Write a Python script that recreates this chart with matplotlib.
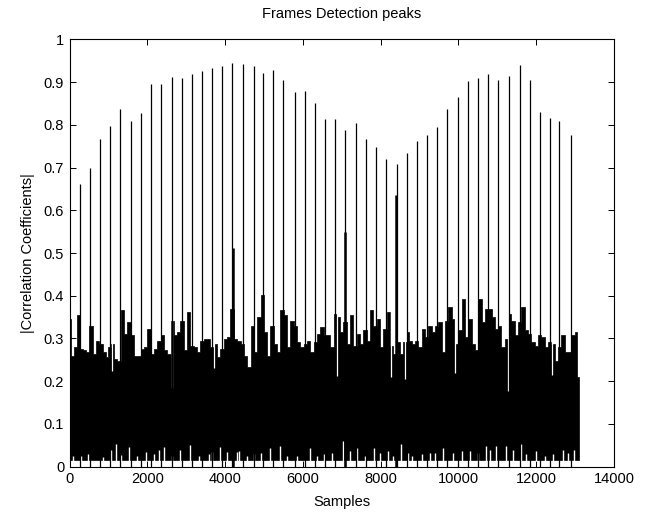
import matplotlib
matplotlib.use("Agg")
import matplotlib.pyplot as plt
import numpy as np

# frame peaks (sample index, |corr|)
peak_x = [264, 520, 776, 1032, 1288, 1570, 1844, 2100, 2356, 2620, 2901, 3157, 3413,
          3670, 3926, 4182, 4464, 4728, 4983, 5240, 5495, 5787, 6044, 6300, 6563, 6820,
          7076, 7357, 7613, 7869, 8126, 8425, 8681, 8937, 9193, 9449, 9705, 9995, 10251,
          10507, 10771, 11027, 11309, 11575, 11831, 12087, 12343, 12599, 12889]
peak_y = [0.662, 0.698, 0.766, 0.797, 0.836, 0.809, 0.827, 0.895, 0.895, 0.912, 0.909,
          0.919, 0.926, 0.934, 0.938, 0.944, 0.942, 0.938, 0.921, 0.929, 0.905, 0.876,
          0.879, 0.852, 0.814, 0.814, 0.787, 0.805, 0.767, 0.749, 0.720, 0.708, 0.734,
          0.761, 0.776, 0.796, 0.837, 0.864, 0.902, 0.909, 0.918, 0.905, 0.914, 0.941,
          0.905, 0.829, 0.817, 0.809, 0.776]

# a few side lobes next to the main peaks
lobe_x = [4195, 7093, 8399]
lobe_y = [0.512, 0.548, 0.636]

# upper edge of the noise floor
noise_x = [8, 76, 161, 230, 289, 375, 461, 546, 631, 716, 802, 887, 973, 1015, 1100, 1186,
           1271, 1357, 1442, 1527, 1613, 1698, 1783, 1869, 1954, 2039, 2125, 2210, 2295,
           2381, 2466, 2551, 2637, 2722, 2807, 2893, 2978, 3063, 3149, 3234, 3319, 3405,
           3490, 3575, 3661, 3746, 3831, 3917, 4002, 4087, 4173, 4258,
           4353, 4438, 4524, 4609, 4695, 4780, 4865, 4951, 5036, 5122, 5207, 5292, 5378,
           5463, 5549, 5634, 5719, 5805, 5890, 5976, 6061, 6146, 6232, 6317, 6403, 6488,
           6573, 6659, 6744, 6830, 6915, 7000, 7086, 7171, 7257, 7342, 7427, 7513, 7598,
           7684, 7769, 7854, 7940, 8025, 8111, 8196, 8281, 8367, 8452, 8538, 8623, 8708,
           8758, 8843, 8929, 9014, 9100, 9185, 9270, 9356, 9441, 9527, 9612, 9697, 9783,
           9868, 9954, 10039, 10124, 10210, 10295, 10381, 10466, 10551, 10637, 10722,
           10808, 10893, 10978, 11064, 11149, 11235, 11320, 11405, 11491, 11576, 11662,
           11747, 11832, 11918, 12003, 12089, 12174, 12259, 12345, 12430, 12516, 12601,
           12686, 12772, 12857, 12943, 13028, 13090]
noise_hi = [0.346, 0.260, 0.280, 0.354, 0.276, 0.272, 0.268, 0.330, 0.264, 0.295, 0.287,
            0.268, 0.256, 0.280, 0.287, 0.252, 0.248, 0.366, 0.311, 0.338, 0.307, 0.260,
            0.260, 0.276, 0.280, 0.322, 0.264, 0.276, 0.295, 0.307, 0.272, 0.264, 0.342,
            0.307, 0.315, 0.342, 0.272, 0.362, 0.283, 0.280, 0.268, 0.295, 0.299, 0.299,
            0.280, 0.287, 0.256, 0.276, 0.299, 0.303, 0.370, 0.299,
            0.295, 0.287, 0.260, 0.233, 0.330, 0.268, 0.350, 0.401, 0.315, 0.260, 0.330,
            0.287, 0.268, 0.366, 0.354, 0.280, 0.342, 0.330, 0.291, 0.280, 0.287, 0.295,
            0.268, 0.291, 0.311, 0.326, 0.307, 0.307, 0.280, 0.358, 0.350, 0.315, 0.338,
            0.287, 0.354, 0.283, 0.311, 0.287, 0.319, 0.295, 0.366, 0.330, 0.346, 0.280,
            0.322, 0.362, 0.283, 0.264, 0.291, 0.264, 0.291, 0.315,
            0.295, 0.287, 0.295, 0.280, 0.322, 0.303, 0.330, 0.315, 0.330, 0.338, 0.268,
            0.342, 0.373, 0.346, 0.287, 0.319, 0.393, 0.303, 0.346, 0.287, 0.272, 0.393,
            0.338, 0.370, 0.370, 0.350, 0.322, 0.330, 0.280, 0.299, 0.358, 0.342, 0.307,
            0.338, 0.373, 0.319, 0.311, 0.291, 0.283, 0.307, 0.303, 0.280, 0.291, 0.287,
            0.248, 0.280, 0.307, 0.268, 0.268, 0.307, 0.315, 0.210]
noise_floor = 0.016

# white gaps poking up from the floor
gap_x = [76, 289, 460, 844, 1058, 1186, 1314, 1527, 1740, 1954, 2167, 2295, 2423, 2637,
         2850, 3106, 3319, 3575, 3661, 3874, 4045, 4301, 4353, 4566, 4737, 4908, 5164,
         5403, 5591, 5847, 6188, 6359, 6530, 6743, 7042, 7212, 7400, 7597, 7827, 7981,
         8194, 8322, 8510, 8707, 8800, 9056, 9269, 9397, 9610, 9866, 10080, 10293, 10507,
         10720, 10806, 10976, 11232, 11403, 11616, 11744, 12000, 12214, 12427, 12683,
         12811, 12982]
gap_y = [0.025, 0.025, 0.030, 0.022, 0.040, 0.052, 0.028, 0.046, 0.025, 0.035, 0.030,
         0.038, 0.045, 0.025, 0.040, 0.050, 0.025, 0.030, 0.035, 0.045, 0.035, 0.035,
         0.036, 0.025, 0.029, 0.033, 0.044, 0.048, 0.025, 0.025, 0.044, 0.025, 0.029,
         0.033, 0.061, 0.036, 0.044, 0.025, 0.044, 0.033, 0.036, 0.025, 0.052, 0.033,
         0.025, 0.029, 0.033, 0.033, 0.044, 0.033, 0.036, 0.036, 0.033, 0.048, 0.040,
         0.048, 0.048, 0.040, 0.052, 0.029, 0.036, 0.025, 0.029, 0.040, 0.033, 0.040]

# white notches cutting down into the noise band
dip_x = [2637, 6870, 8254, 8630, 11276, 1100, 3700, 9900, 12400]
dip_y = [0.183, 0.213, 0.210, 0.206, 0.178, 0.225, 0.230, 0.220, 0.215]

plt.rcParams['font.family'] = ['Liberation Sans', 'DejaVu Sans']

fig = plt.figure(figsize=(6.49, 5.12), dpi=100)
ax = fig.add_axes([0.1074, 0.0885, 0.8386, 0.8347])

ax.fill_between(noise_x, noise_floor, noise_hi, step='mid', color='black', lw=0.5)
ax.vlines(gap_x, noise_floor - 0.002, gap_y, color='white', lw=1.0)
ax.vlines(dip_x, dip_y, 0.45, color='white', lw=0.9)
ax.vlines(peak_x, 0, peak_y, color='black', lw=0.9)
ax.vlines(lobe_x, 0, lobe_y, color='black', lw=1.8)

ax.set_xlim(0, 14000)
ax.set_ylim(0, 1)
ax.set_xticks(np.arange(0, 14001, 2000))
ax.set_yticks(np.arange(0, 1.01, 0.1))
ax.set_yticklabels(['0', '0.1', '0.2', '0.3', '0.4', '0.5', '0.6', '0.7', '0.8', '0.9', '1'])
ax.tick_params(direction='in', top=True, right=True, length=4, width=0.7,
               labelsize=10.5, colors='black', pad=4)
for s in ax.spines.values():
    s.set_linewidth(0.8)

ax.set_title('Frames Detection peaks', fontsize=10.5, pad=15)
ax.set_xlabel('Samples', fontsize=10.5, labelpad=6)
ax.set_ylabel('|Correlation Coefficients|', fontsize=10.5, labelpad=6)

fig.savefig('out.png', dpi=100)
